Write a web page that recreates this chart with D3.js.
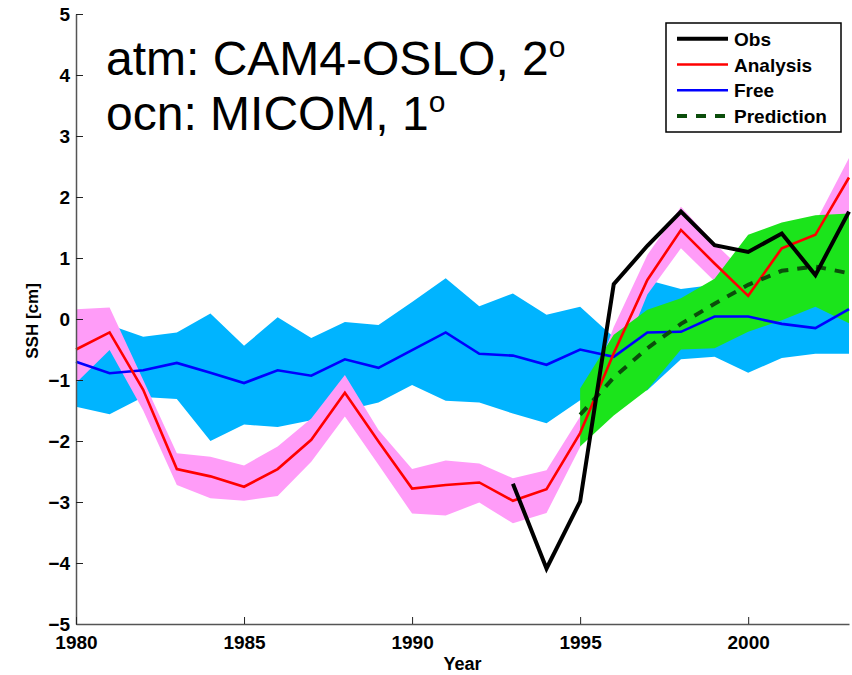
<!DOCTYPE html>
<html>
<head>
<meta charset="utf-8">
<script src="https://cdn.jsdelivr.net/npm/d3@7"></script>
<style>
  html, body { margin: 0; padding: 0; background: #fff; }
  svg { display: block; }
  text { font-family: "Liberation Sans", Arial, Helvetica, sans-serif; }
</style>
</head>
<body>
<svg id="chart" width="852" height="675"></svg>
<script>
// Annual sea surface height anomaly (cm), 1980-2003
const years = [1980, 1981, 1982, 1983, 1984, 1985, 1986, 1987, 1988, 1989, 1990, 1991,
               1992, 1993, 1994, 1995, 1996, 1997, 1998, 1999, 2000, 2001, 2002, 2003];

// Reanalysis ensemble mean and spread
const analysis     = [-0.50, -0.22, -1.16, -2.46, -2.58, -2.75, -2.46, -1.98, -1.21, -2.01, -2.78, -2.72,
                      -2.68, -2.98, -2.79, -1.87, -0.56, 0.64, 1.46, 0.91, 0.38, 1.16, 1.38, 2.32];
const analysisHigh = [0.16, 0.19, -1.00, -2.20, -2.26, -2.40, -2.09, -1.63, -0.92, -1.82, -2.46, -2.32,
                      -2.37, -2.61, -2.48, -1.60, -0.13, 1.05, 1.84, 1.24, 0.72, 1.45, 1.58, 2.64];
const analysisLow  = [-1.05, -0.51, -1.50, -2.72, -2.94, -2.98, -2.90, -2.34, -1.60, -2.39, -3.19, -3.22,
                      -3.01, -3.35, -3.18, -2.10, -0.95, 0.40, 1.16, 0.62, 0.05, 0.85, 1.10, 1.76];

// Free-running ensemble mean and spread
const free     = [-0.70, -0.89, -0.84, -0.72, -0.88, -1.05, -0.84, -0.93, -0.66, -0.80, -0.51, -0.22,
                  -0.57, -0.60, -0.75, -0.50, -0.62, -0.22, -0.21, 0.04, 0.04, -0.08, -0.15, 0.16];
const freeHigh = [-0.30, -0.10, -0.29, -0.22, 0.09, -0.44, 0.03, -0.31, -0.05, -0.10, 0.28, 0.67,
                  0.21, 0.42, 0.07, 0.20, -0.30, 0.64, 0.49, 0.56, 0.95, 0.85, 0.90, 0.95];
const freeLow  = [-1.44, -1.56, -1.28, -1.31, -2.00, -1.73, -1.77, -1.66, -1.50, -1.37, -1.08, -1.34,
                  -1.37, -1.55, -1.71, -1.33, -1.25, -1.17, -0.66, -0.62, -0.88, -0.64, -0.57, -0.57];

// Observations (altimetry period)
const obsYears = [1993, 1994, 1995, 1996, 1997, 1998, 1999, 2000, 2001, 2002, 2003];
const obs      = [-2.70, -4.09, -2.99, 0.57, 1.20, 1.76, 1.21, 1.10, 1.40, 0.72, 1.76];

// Prediction started in 1995, mean and spread
const predYears = [1995, 1996, 1997, 1998, 1999, 2000, 2001, 2002, 2003];
const prediction = [-1.57, -0.96, -0.48, -0.08, 0.25, 0.56, 0.79, 0.86, 0.75];
const predHigh   = [-1.14, -0.26, 0.15, 0.34, 0.66, 1.38, 1.58, 1.70, 1.73];
const predLow    = [-2.09, -1.58, -1.16, -0.50, -0.48, -0.21, -0.02, 0.20, -0.07];

const xTicks = [1980, 1985, 1990, 1995, 2000];
const yTicks = [-5, -4, -3, -2, -1, 0, 1, 2, 3, 4, 5];

const legendItems = [
  { label: "Obs",        color: "#000000", width: 4,   dash: null },
  { label: "Analysis",   color: "#ff0000", width: 2.6, dash: null },
  { label: "Free",       color: "#0000ff", width: 2.6, dash: null },
  { label: "Prediction", color: "#0b4d0b", width: 4,   dash: "10,9" }
];

const svg = d3.select("#chart");

const x = d3.scaleLinear().domain([1980, 2003]).range([76, 849]);
const y = d3.scaleLinear().domain([-5, 5]).range([624, 14]);

const band = (xs, lo, hi) => d3.area()
  .x((d, i) => x(xs[i]))
  .y0((d, i) => y(lo[i]))
  .y1((d, i) => y(hi[i]))(xs);
const line = (xs, vs) => d3.line()
  .x((d, i) => x(xs[i]))
  .y((d, i) => y(vs[i]))(xs);

// Spread envelopes
svg.append("path").attr("d", band(years, freeLow, freeHigh)).attr("fill", "#00b4ff");
svg.append("path").attr("d", band(years, analysisLow, analysisHigh)).attr("fill", "#ff9cf8");
svg.append("path").attr("d", band(predYears, predLow, predHigh)).attr("fill", "#1be41b");

// Ensemble means and observations
svg.append("path").attr("d", line(years, free))
  .attr("fill", "none").attr("stroke", "#0000ff").attr("stroke-width", 2.6).attr("stroke-linejoin", "miter");
svg.append("path").attr("d", line(years, analysis))
  .attr("fill", "none").attr("stroke", "#ff0000").attr("stroke-width", 2.6).attr("stroke-linejoin", "miter");
svg.append("path").attr("d", line(predYears, prediction))
  .attr("fill", "none").attr("stroke", "#0b4d0b").attr("stroke-width", 4).attr("stroke-dasharray", "10,9");
svg.append("path").attr("d", line(obsYears, obs))
  .attr("fill", "none").attr("stroke", "#000000").attr("stroke-width", 4).attr("stroke-linejoin", "miter");

// Axes (left and bottom only, ticks pointing inward)
const yAxis = d3.axisLeft(y).tickValues(yTicks).tickSizeInner(-7).tickSizeOuter(0).tickPadding(6)
  .tickFormat(d3.format("d"));
const gy = svg.append("g").attr("transform", `translate(${x(1980)},0)`).call(yAxis);

const xAxis = d3.axisBottom(x).tickValues(xTicks).tickSizeInner(-7).tickSizeOuter(0).tickPadding(12)
  .tickFormat(d3.format("d"));
const gx = svg.append("g").attr("transform", `translate(0,${y(-5)})`).call(xAxis);

[gx, gy].forEach(g => {
  g.select(".domain").attr("stroke", "#555").attr("stroke-width", 1.5);
  g.selectAll(".tick line").attr("stroke", "#222").attr("stroke-width", 1);
  g.selectAll(".tick text")
    .attr("fill", "#000")
    .style("font-family", "'Liberation Sans', Arial, sans-serif")
    .style("font-weight", "bold")
    .style("font-size", "19px");
});

// Axis titles
svg.append("text")
  .attr("x", (x(1980) + x(2003)) / 2).attr("y", 670)
  .attr("text-anchor", "middle")
  .style("font-weight", "bold").style("font-size", "18px")
  .text("Year");

svg.append("text")
  .attr("transform", "translate(38,321) rotate(-90)")
  .attr("text-anchor", "middle")
  .style("font-weight", "bold").style("font-size", "17px")
  .text("SSH [cm]");

// Model configuration annotation
const note = [["atm: CAM4-OSLO, 2", 75], ["ocn: MICOM, 1", 130]];
note.forEach(([txt, by]) => {
  const t = svg.append("text").attr("x", 106).attr("y", by).style("font-size", "48px");
  t.append("tspan").text(txt);
  t.append("tspan").attr("dy", -18).style("font-size", "30px").text("o");
});

// Legend
const lg = svg.append("g");
lg.append("rect")
  .attr("x", 666).attr("y", 23).attr("width", 175).attr("height", 109)
  .attr("fill", "#fff").attr("stroke", "#000").attr("stroke-width", 1.5);
legendItems.forEach((d, i) => {
  const ly = 38.7 + i * 25.8;
  lg.append("line")
    .attr("x1", 677).attr("x2", 728).attr("y1", ly).attr("y2", ly)
    .attr("stroke", d.color).attr("stroke-width", d.width)
    .attr("stroke-dasharray", d.dash);
  lg.append("text")
    .attr("x", 734).attr("y", ly + 7)
    .style("font-weight", "bold").style("font-size", "19px")
    .text(d.label);
});
</script>
</body>
</html>
